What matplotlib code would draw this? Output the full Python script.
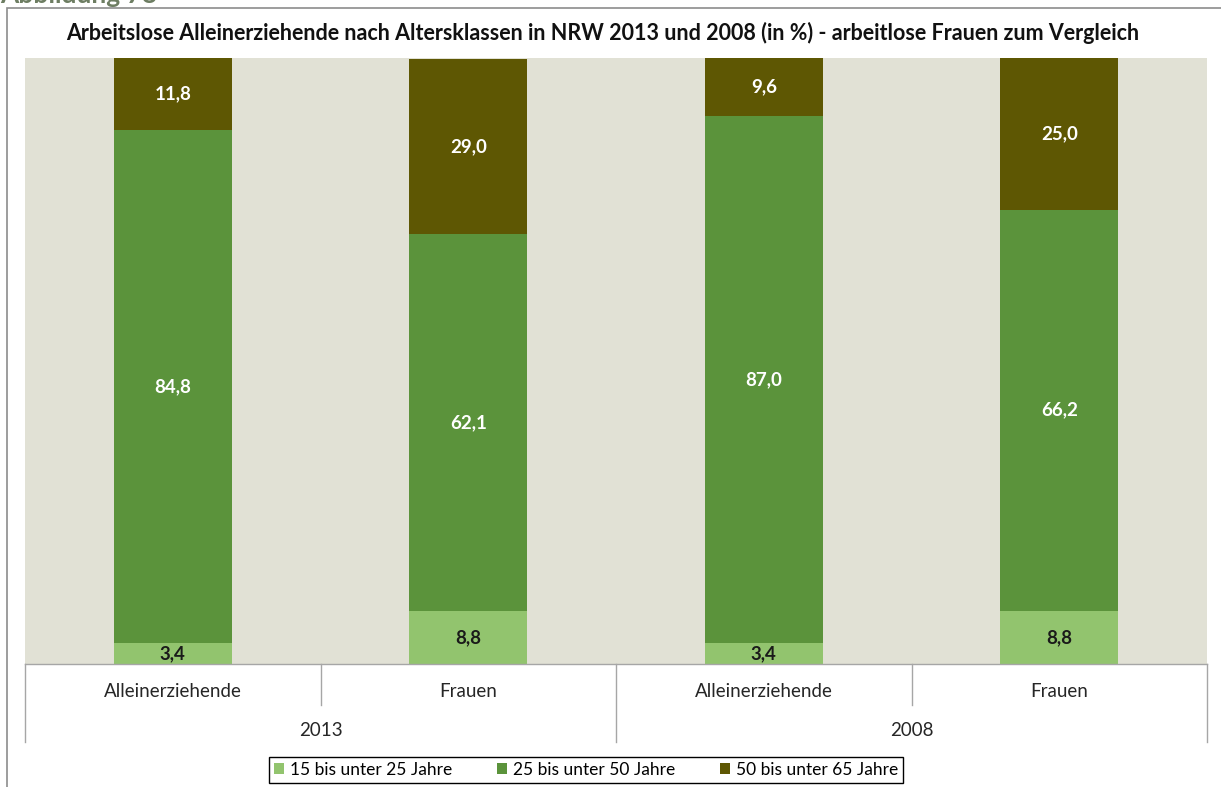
import matplotlib.pyplot as plt
from matplotlib.patches import Rectangle

plt.rcParams['font.family'] = ['Lato', 'DejaVu Sans']

years = ['2013', '2008']
groups = ['Alleinerziehende', 'Frauen', 'Alleinerziehende', 'Frauen']
series_names = ['15 bis unter 25 Jahre', '25 bis unter 50 Jahre', '50 bis unter 65 Jahre']
age_15_25 = [3.4, 8.8, 3.4, 8.8]
age_25_50 = [84.8, 62.1, 87.0, 66.2]
age_50_65 = [11.8, 29.0, 9.6, 25.0]

colors = ['#92C46E', '#5B933B', '#5E5703']
label_colors = ['#1a1a1a', 'white', 'white']
title = 'Arbeitslose Alleinerziehende nach Altersklassen in NRW 2013 und 2008 (in %) - arbeitlose Frauen zum Vergleich'

W, H = 1221, 787
fig = plt.figure(figsize=(W / 100, H / 100), dpi=100)

# outer frame of the chart object (right and bottom edges run off the picture)
fig.add_artist(Rectangle((7 / W, -0.1), 1.2, 1 - 8 / H + 0.1, transform=fig.transFigure,
                         fill=False, edgecolor='#8c8c8c', linewidth=1.2))
# heading of the page, cut off at the top like in the original
fig.text(0.0, 1 - 3 / H, 'Abbildung 78', fontsize=19, fontweight='bold',
         color='#6D7D62', va='baseline', ha='left')

ax = fig.add_axes([25 / W, 1 - 664 / H, (1207 - 25) / W, (664 - 58) / H])
ax.set_facecolor('#E1E1D5')

x = list(range(len(groups)))
width = 0.40
bottoms = [0.0] * len(groups)
for vals, name, col, tcol in zip([age_15_25, age_25_50, age_50_65], series_names, colors, label_colors):
    ax.bar(x, vals, width, bottom=bottoms, color=col, label=name, linewidth=0)
    for xi, v, b in zip(x, vals, bottoms):
        ax.text(xi, b + v / 2, f'{v:.1f}'.replace('.', ','), ha='center', va='center',
                color=tcol, fontsize=13.5, fontweight='bold')
    bottoms = [b + v for b, v in zip(bottoms, vals)]

ax.set_xlim(-0.5, 3.5)
ax.set_ylim(0, 100)
ax.set_xticks([])
ax.set_yticks([])
for s in ax.spines.values():
    s.set_visible(False)

# category table below the plot
tr = ax.get_xaxis_transform()
line_col = '#a6a6a6'
ax.plot([-0.5, 3.5], [0, 0], transform=tr, color=line_col, lw=1, clip_on=False)
for b in [-0.5, 1.5, 3.5]:
    ax.plot([b, b], [0, -0.129], transform=tr, color=line_col, lw=1, clip_on=False)
for b in [0.5, 2.5]:
    ax.plot([b, b], [0, -0.068], transform=tr, color=line_col, lw=1, clip_on=False)
for xi, g in zip(x, groups):
    ax.text(xi, -0.045, g, transform=tr, ha='center', va='center', fontsize=13.5, color='#262626')
for i, yr in enumerate(years):
    ax.text(2 * i + 0.5, -0.109, yr, transform=tr, ha='center', va='center', fontsize=13.5, color='#262626')

fig.text(603 / W, 1 - 33 / H, title, ha='center', va='center', fontsize=15.5, fontweight='bold', color='#111111')

leg = fig.legend(loc='center', bbox_to_anchor=(586 / W, 1 - 770 / H), ncol=3, fancybox=False,
                 edgecolor='black', fontsize=12.5, handlelength=0.6, handleheight=0.6,
                 handletextpad=0.3, columnspacing=2.6, borderpad=0.3, borderaxespad=0,
                 framealpha=1)
leg.get_frame().set_linewidth(1.0)
# pad the legend box out to the width of the original
leg._legend_box.sep = 0
leg.borderpad = 0.3

fig.savefig('out.png', dpi=100)
